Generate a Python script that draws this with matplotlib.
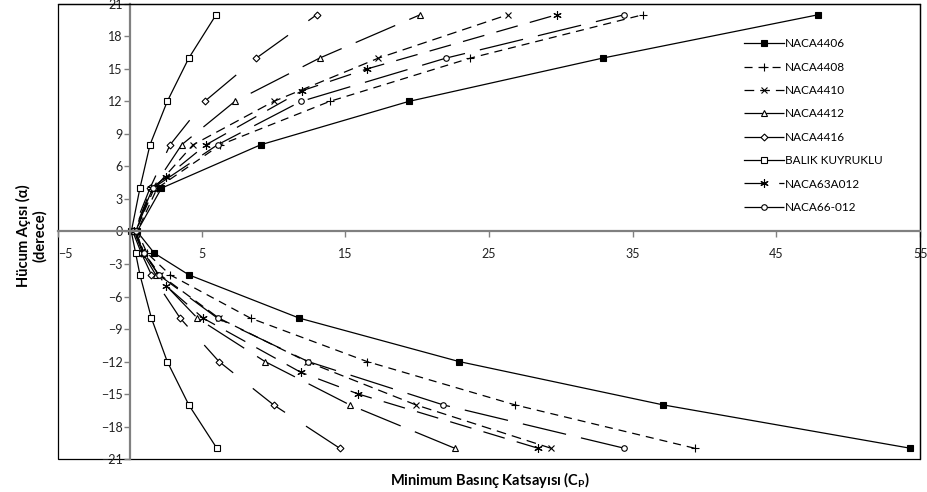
import numpy as np
import matplotlib.pyplot as plt
from matplotlib.patches import Rectangle

plt.rcParams['font.family'] = ['Lato', 'DejaVu Sans']
plt.rcParams['mathtext.fontset'] = 'custom'
plt.rcParams['mathtext.rm'] = 'Lato'
plt.rcParams['mathtext.bf'] = 'Lato:bold'
plt.rcParams['lines.scale_dashes'] = False

# hücum açıları (derece)
alpha_std = [-20, -16, -12, -8, -4, -2, 0, 4, 8, 12, 16, 20]
alpha_63a = [-20, -15, -13, -8, -5, -2, 0, 4, 5, 8, 13, 15, 20]

# minimum basınç katsayıları
naca4406 = [54.3, 37.1, 22.9, 11.8, 4.1, 1.7, 0.5, 2.2, 9.1, 19.4, 32.9, 47.9]
naca4408 = [39.3, 26.8, 16.5, 8.4, 2.8, 1.2, 0.5, 1.9, 6.3, 13.9, 23.7, 35.7]
naca4410 = [29.3, 19.9, 12.3, 6.2, 2.1, 1.0, 0.4, 1.7, 4.4, 10.0, 17.3, 26.3]
naca4412 = [22.6, 15.3, 9.4, 4.7, 1.8, 0.9, 0.3, 1.6, 3.6, 7.3, 13.2, 20.2]
naca4416 = [14.6, 10.0, 6.2, 3.5, 1.5, 0.8, 0.2, 1.4, 2.8, 5.2, 8.8, 13.0]
balik = [6.05, 4.1, 2.6, 1.5, 0.7, 0.4, 0.1, 0.7, 1.4, 2.6, 4.1, 6.0]
naca63a012 = [28.4, 15.9, 11.9, 5.1, 2.5, 1.0, 0.3, 1.5, 2.5, 5.3, 12.0, 16.5, 29.7]
naca66012 = [34.4, 21.8, 12.4, 6.1, 2.0, 1.0, 0.4, 1.6, 6.1, 11.9, 22.0, 34.4]

series = [
    ('NACA4406', naca4406, alpha_std, 's', 'k', (None, None), 4.3),
    ('NACA4408', naca4408, alpha_std, '+', 'k', (5.8, 4.3), 6),
    ('NACA4410', naca4410, alpha_std, 'x', 'k', (7, 4.3), 5),
    ('NACA4412', naca4412, alpha_std, '^', 'w', (31, 11), 4.5),
    ('NACA4416', naca4416, alpha_std, 'D', 'w', (29, 18), 3.5),
    ('BALIK KUYRUKLU', balik, alpha_std, 's', 'w', (None, None), 4.5),
    ('NACA63A012', naca63a012, alpha_63a, (6, 2, 0), 'k', (16, 9), 6),
    ('NACA66-012', naca66012, alpha_std, 'o', 'w', (32, 11), 4),
]

fig = plt.figure(figsize=(9.27, 4.92), dpi=100)
ax = fig.add_axes([0.0626, 0.067, 0.93, 0.925])

for name, cp, al, mk, fc, dash, ms in series:
    line, = ax.plot(cp, al, color='k', lw=0.9, marker=mk, markersize=ms,
                    markerfacecolor=fc, markeredgecolor='k', markeredgewidth=0.8,
                    label=name)
    if dash[0] is not None:
        line.set_dashes(dash)

ax.set_xlim(-5, 55)
ax.set_ylim(-21, 21)
ax.set_xticks(np.arange(-5, 56, 10))
ax.set_yticks(np.arange(-21, 22, 3))

for s in ['left', 'bottom']:
    ax.spines[s].set_position(('data', 0))
    ax.spines[s].set_color('#808080')
    ax.spines[s].set_linewidth(1.6)
for s in ['top', 'right']:
    ax.spines[s].set_color('k')
    ax.spines[s].set_linewidth(0.9)
ax.add_patch(Rectangle((0, 0), 1, 1, transform=ax.transAxes, fill=False,
                       edgecolor='k', lw=0.9, clip_on=False, zorder=0))

ax.tick_params(axis='both', direction='out', length=4, width=1, color='#808080',
               labelsize=9, labelcolor='#222222')
ax.tick_params(axis='x', pad=8)
ax.tick_params(axis='y', pad=1)
ax.get_xticklabels()[0].set_ha('left')

ax.legend(loc='upper left', bbox_to_anchor=(0.79, 0.935), frameon=False,
          fontsize=8.5, handlelength=3.4, handletextpad=0.1, labelspacing=1.05,
          borderaxespad=0)

fig.text(0.528, 0.025, 'Minimum Basınç Katsayısı (C$_\\mathbf{P}$)', ha='center',
         va='center', fontsize=10.5, fontweight='bold')
fig.text(0.034, 0.52, 'Hücum Açısı (α)\n(derece)', ha='center', va='center',
         rotation=90, fontsize=10.5, fontweight='bold', linespacing=1.1)

fig.savefig('out.png', dpi=100)
